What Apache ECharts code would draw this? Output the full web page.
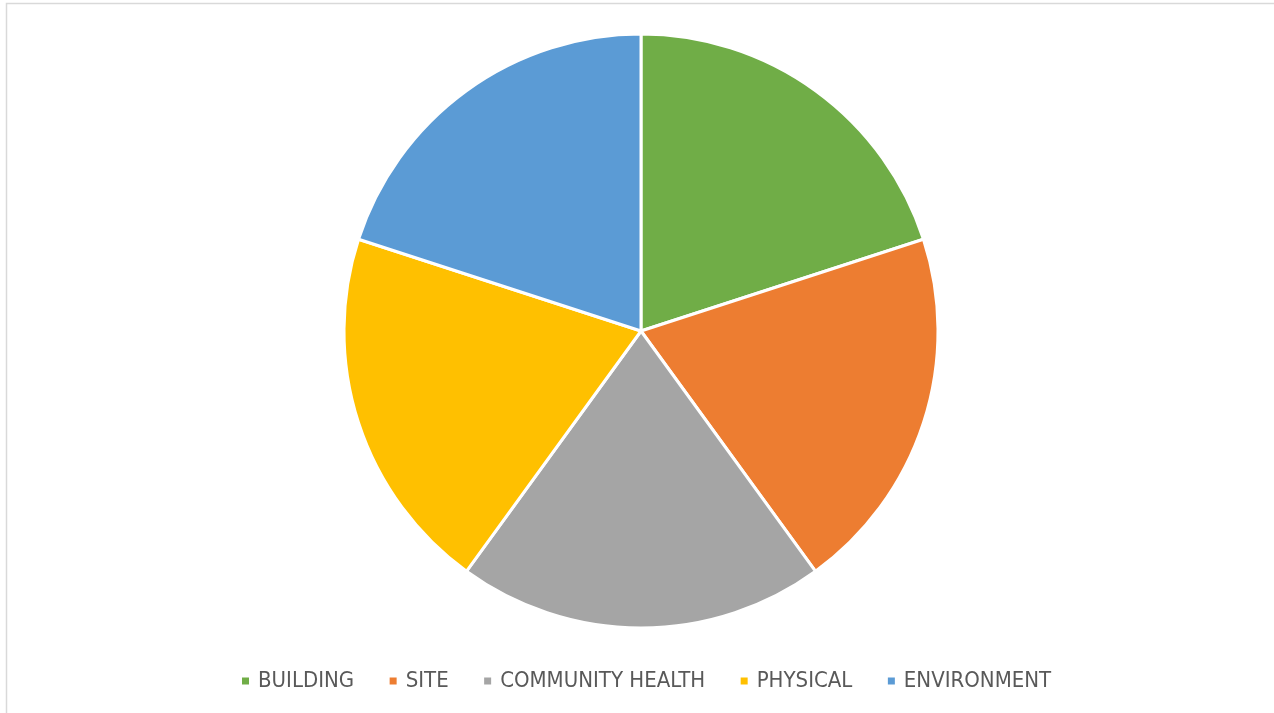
<!DOCTYPE html>
<html><head><meta charset="utf-8">
<script src="https://cdn.jsdelivr.net/npm/echarts@6/dist/echarts.min.js"></script>
<style>html,body{margin:0;padding:0;background:#fff}#c{width:1274px;height:713px}</style>
</head><body><div id="c"></div>
<script>
const categories = ['BUILDING','SITE','COMMUNITY HEALTH','PHYSICAL','ENVIRONMENT'];
const values = [20,20,20,20,20];
const colors = ['#70AD47','#ED7D31','#A5A5A5','#FFC000','#5B9BD5'];
const chart = echarts.init(document.getElementById('c'));
chart.setOption({
  animation:false,
  color: colors,
  graphic:[{type:'rect',shape:{x:6.5,y:3.5,width:1300,height:800},style:{fill:'none',stroke:'#d9d9d9',lineWidth:1.5},silent:true}],
  legend:{
    bottom:16, left:235, itemWidth:9, itemHeight:9, itemGap:33.5, icon:'rect',
    textStyle:{fontFamily:'DejaVu Sans Condensed', fontSize:22, color:'#595959', padding:[0,0,0,3]},
    data:categories
  },
  series:[{
    type:'pie', center:[641,331], radius:[0,297], startAngle:90, clockwise:true,
    label:{show:false}, labelLine:{show:false},
    itemStyle:{borderColor:'#fff', borderWidth:3},
    emphasis:{disabled:true},
    data: categories.map((n,i)=>({name:n, value:values[i]}))
  }]
});
</script></body></html>
